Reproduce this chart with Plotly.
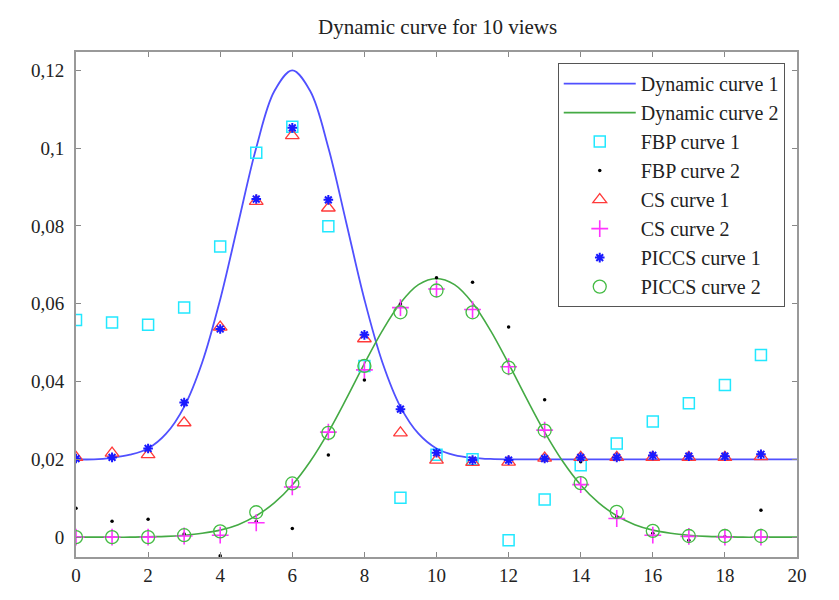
import plotly.graph_objects as go

# ---- data ----
views = list(range(20))

curve_x = [0, 0.5, 1, 1.5, 2, 2.5, 3, 3.5, 4, 4.5, 5, 5.5, 6, 6.5, 7, 7.5, 8, 8.5, 9, 9.5,
           10, 10.5, 11, 11.5, 12, 12.5, 13, 13.5, 14, 14.5, 15, 15.5, 16, 16.5, 17, 17.5,
           18, 18.5, 19, 19.5, 20]
dyn1 = [0.0200, 0.0200, 0.0204, 0.0212, 0.0228, 0.0266, 0.0335, 0.0449, 0.0611, 0.0807,
        0.1001, 0.1146, 0.1200, 0.1146, 0.1001, 0.0807, 0.0611, 0.0449, 0.0335, 0.0266,
        0.0228, 0.0211, 0.0204, 0.0201, 0.0200, 0.0200, 0.0200, 0.0200, 0.0200, 0.0200,
        0.0200, 0.0200, 0.0200, 0.0200, 0.0200, 0.0200, 0.0200, 0.0200, 0.0200, 0.0200, 0.0200]
dyn2 = [0.0000, 0.0000, 0.0000, 0.0000, 0.0001, 0.0002, 0.0005, 0.0010, 0.0018, 0.0032,
        0.0055, 0.0088, 0.0134, 0.0195, 0.0270, 0.0356, 0.0446, 0.0531, 0.0602, 0.0649,
        0.0665, 0.0649, 0.0602, 0.0531, 0.0446, 0.0356, 0.0270, 0.0195, 0.0134, 0.0088,
        0.0055, 0.0032, 0.0018, 0.0010, 0.0005, 0.0002, 0.0001, 0.0000, 0.0000, 0.0000, 0.0000]

fbp1 = [0.0558, 0.0552, 0.0546, 0.0590, 0.0747, 0.0988, 0.1055, 0.0799, 0.0440, 0.0101,
        0.0212, 0.0200, -0.0008, 0.0097, 0.0185, 0.0241, 0.0297, 0.0344, 0.0391, 0.0468]
fbp2 = [0.0074, 0.0041, 0.0046, 0.0008, -0.0048, 0.0040, 0.0022, 0.0211, 0.0404, 0.0599,
        0.0667, 0.0655, 0.0540, 0.0353, 0.0194, 0.0052, 0.0010, -0.0008, 0.0001, 0.0069]
cs1 = [0.0205, 0.0216, 0.0212, 0.0294, 0.0540, 0.0863, 0.1032, 0.0846, 0.0510, 0.0268,
       0.0198, 0.0192, 0.0193, 0.0203, 0.0205, 0.0205, 0.0205, 0.0205, 0.0205, 0.0207]
cs2 = [0.0000, 0.0000, 0.0000, 0.0003, 0.0005, 0.0037, 0.0129, 0.0270, 0.0430, 0.0590,
       0.0638, 0.0585, 0.0438, 0.0275, 0.0135, 0.0048, 0.0005, 0.0002, 0.0000, 0.0000]
piccs1 = [0.0202, 0.0205, 0.0228, 0.0346, 0.0535, 0.0869, 0.1052, 0.0867, 0.0520, 0.0329,
          0.0217, 0.0198, 0.0198, 0.0202, 0.0205, 0.0205, 0.0210, 0.0208, 0.0208, 0.0213]
piccs2 = [0.0000, 0.0000, 0.0000, 0.0005, 0.0015, 0.0064, 0.0138, 0.0268, 0.0440, 0.0578,
          0.0634, 0.0578, 0.0436, 0.0274, 0.0139, 0.0065, 0.0016, 0.0003, 0.0003, 0.0003]

x_ticks = [0, 2, 4, 6, 8, 10, 12, 14, 16, 18, 20]
y_ticks = [0, 0.02, 0.04, 0.06, 0.08, 0.1, 0.12]

FONT = "Liberation Serif, Times New Roman, serif"

fig = go.Figure()
fig.add_trace(go.Scatter(x=curve_x, y=dyn1, mode="lines", name="Dynamic curve 1",
                         line=dict(color="#5050ff", width=1.8, shape="spline")))
fig.add_trace(go.Scatter(x=curve_x, y=dyn2, mode="lines", name="Dynamic curve 2",
                         line=dict(color="#44aa44", width=1.6, shape="spline")))
fig.add_trace(go.Scatter(x=views, y=fbp1, mode="markers", name="FBP curve 1",
                         marker=dict(symbol="square-open", size=11, color="#22e8ff",
                                     line=dict(width=1.5, color="#22e8ff"))))
fig.add_trace(go.Scatter(x=views, y=fbp2, mode="markers", name="FBP curve 2",
                         marker=dict(symbol="circle", size=3.5, color="#000000")))
fig.add_trace(go.Scatter(x=views, y=cs1, mode="markers", name="CS curve 1",
                         marker=dict(symbol="triangle-up-open", size=12, color="#ff3a3a",
                                     line=dict(width=1.3, color="#ff3a3a"))))
fig.add_trace(go.Scatter(x=views, y=cs2, mode="markers", name="CS curve 2",
                         marker=dict(symbol="cross-thin-open", size=12, color="#ff33ff",
                                     line=dict(width=1.6, color="#ff33ff"))))
fig.add_trace(go.Scatter(x=views, y=piccs1, mode="markers", name="PICCS curve 1",
                         marker=dict(symbol="asterisk-open", size=8, color="#1a1aff",
                                     line=dict(width=2, color="#1a1aff"))))
fig.add_trace(go.Scatter(x=views, y=piccs2, mode="markers", name="PICCS curve 2",
                         marker=dict(symbol="circle-open", size=13, color="#44bb44",
                                     line=dict(width=1.3, color="#44bb44"))))

fig.update_layout(
    width=831, height=592,
    margin=dict(l=68, r=42, t=44, b=43),
    paper_bgcolor="white", plot_bgcolor="white",
    separators=",.",
    font=dict(family=FONT, size=19, color="#222"),
    title=dict(text="Dynamic curve for 10 views", x=0.517, xref="container",
               y=0.968, yref="container", yanchor="middle",
               font=dict(family=FONT, size=21, color="#222")),
    showlegend=True,
    legend=dict(x=0.983, y=0.978, xanchor="right", yanchor="top",
                bgcolor="white", bordercolor="#555", borderwidth=1,
                font=dict(family=FONT, size=20, color="#222"),
                itemwidth=72),
)
fig.update_xaxes(range=[0, 20], tickvals=x_ticks, ticks="inside", ticklen=5,
                 tickcolor="#888", showline=True, linecolor="#999", linewidth=2,
                 mirror="ticks", showgrid=False, zeroline=False,
                 tickfont=dict(family=FONT, size=19, color="#222"))
fig.update_yaxes(range=[-0.0051, 0.1247], tickvals=y_ticks, ticks="inside", ticklen=5,
                 tickcolor="#888", showline=True, linecolor="#999", linewidth=2,
                 mirror="ticks", showgrid=False, zeroline=False, ticklabelstandoff=6,
                 tickfont=dict(family=FONT, size=19, color="#222"))

fig.write_html("out.html")
